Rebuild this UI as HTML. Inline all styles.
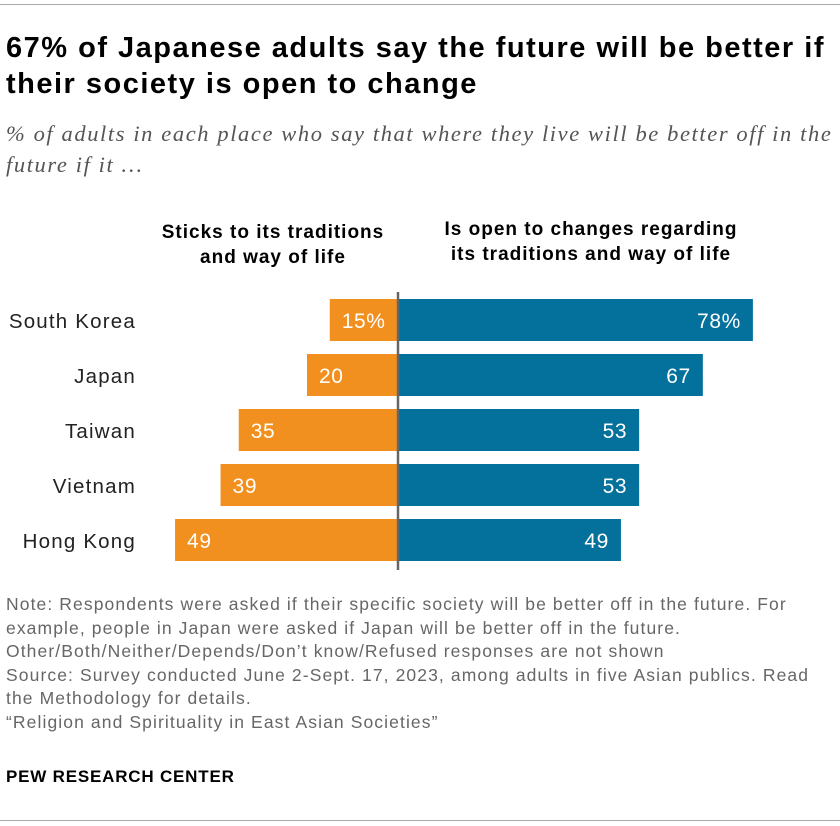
<!DOCTYPE html>
<html><head><meta charset="utf-8"><style>
body{margin:0;width:840px;height:826px;background:#fff;font-family:"Liberation Sans",sans-serif;position:relative;overflow:hidden}
.abs{position:absolute;white-space:nowrap}
#title{left:6px;top:30px;font-size:29px;font-weight:bold;line-height:36px;color:#000;letter-spacing:1.5px}
#sub{left:6px;top:118px;font-family:"Liberation Serif",serif;font-style:italic;font-size:22.5px;line-height:31px;color:#555;letter-spacing:1.6px}
.hdr{font-weight:bold;font-size:19px;line-height:25px;color:#000;text-align:center;letter-spacing:1px}
#note{left:6px;top:593px;font-size:17.5px;line-height:23.5px;color:#666;letter-spacing:1.1px}
#pew{left:6px;top:767px;font-size:17px;font-weight:bold;color:#000;letter-spacing:0.8px}
.rule{left:0;width:840px;height:1px;background:#aaa}
</style></head><body>
<div class="abs rule" style="top:4px"></div>
<div class="abs" id="title">67% of Japanese adults say the future will be better if<br>their society is open to change</div>
<div class="abs" id="sub">% of adults in each place who say that where they live will be better off in the<br>future if it …</div>
<div class="abs hdr" style="left:148px;top:220px;width:250px">Sticks to its traditions<br>and way of life</div>
<div class="abs hdr" style="left:411px;top:217px;width:360px">Is open to changes regarding<br>its traditions and way of life</div>
<svg class="abs" style="left:0;top:0" width="840" height="826" id="chart"></svg>
<div class="abs" id="note">Note: Respondents were asked if their specific society will be better off in the future. For<br>example, people in Japan were asked if Japan will be better off in the future.<br>Other/Both/Neither/Depends/Don’t know/Refused responses are not shown<br>Source: Survey conducted June 2-Sept. 17, 2023, among adults in five Asian publics. Read<br>the Methodology for details.<br>“Religion and Spirituality in East Asian Societies”</div>
<div class="abs" id="pew">PEW RESEARCH CENTER</div>
<div class="abs rule" style="top:820px"></div>
<script>
const categories=["South Korea","Japan","Taiwan","Vietnam","Hong Kong"];
const traditionValues=[15,20,35,39,49];
const changeValues=[78,67,53,53,49];
const traditionLabels=["15%","20","35","39","49"];
const changeLabels=["78%","67","53","53","49"];
const NS="http://www.w3.org/2000/svg";
const svg=document.getElementById('chart');
const cx=398, scale=4.55, top0=299, step=55, bh=42;
const x=v=>v*scale;
const y=i=>top0+i*step;
function mk(t,a){const e=document.createElementNS(NS,t);for(const k in a)e.setAttribute(k,a[k]);svg.appendChild(e);return e;}
categories.forEach((c,i)=>{
  const l=mk('rect',{x:cx-x(traditionValues[i]),y:y(i),width:x(traditionValues[i]),height:bh,fill:'#f2901f'});
  
  
  const r=mk('rect',{x:cx,y:y(i),width:x(changeValues[i]),height:bh,fill:'#04709c'});
  
  
  const cl=mk('text',{x:136,y:y(i)+29,'text-anchor':'end','font-size':'20.5',fill:'#222','font-family':'Liberation Sans, sans-serif','letter-spacing':'1.2'});
  cl.textContent=c;
  
  
  const lt=mk('text',{x:cx-x(traditionValues[i])+12,y:y(i)+29,'font-size':'21',fill:'#fff','font-family':'Liberation Sans, sans-serif','letter-spacing':'0.6'});
  lt.textContent=traditionLabels[i];
  
  
  const rt=mk('text',{x:cx+x(changeValues[i])-12,y:y(i)+29,'text-anchor':'end','font-size':'21',fill:'#fff','font-family':'Liberation Sans, sans-serif','letter-spacing':'0.6'});
  rt.textContent=changeLabels[i];
  
  
});
const ln=mk('line',{x1:cx,x2:cx,y1:292,y2:570,stroke:'#666','stroke-width':2.5});


</script>
</body></html>
